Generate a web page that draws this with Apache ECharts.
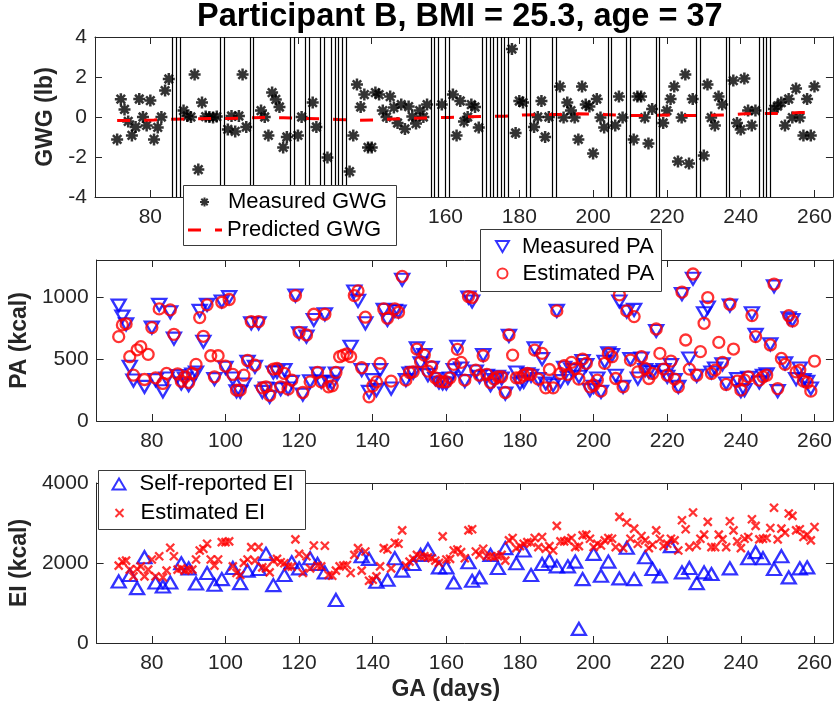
<!DOCTYPE html>
<html><head><meta charset="utf-8">
<script src="https://cdn.jsdelivr.net/npm/echarts@6/dist/echarts.min.js"></script>
<style>html,body{margin:0;padding:0;background:#fff}#c{width:835px;height:714px}</style>
</head><body><div id="c"></div>
<script>
// ---------------- data ----------------
const titleText = 'Participant B, BMI = 25.3, age = 37';
const xTicks = [80,100,120,140,160,180,200,220,240,260];
const gwgTicks = [-4,-2,0,2,4];
const paTicks = [0,500,1000];
const eiTicks = [0,2000,4000];

const gwgDays = [71,72,73,74,75,76,77,78,79,80,81,82,83,84,85,
 89,90,91,92,93,94,95,96,97,98,
 101,102,103,104,105,106,
 110,111,112,113,114,115,116,117,
 120,121,124,125,128,
 134,135,136,137,138,139,140,141,142,143,144,145,146,147,148,149,150,151,152,153,154,155,
 159,162,163,164,165,166,167,168,169,
 178,179,180,181,
 184,185,186,187,188,
 191,192,193,194,195,196,197,198,199,200,201,202,203,
 206,207,208,
 211,212,213,214,215,216,
 219,220,221,222,223,224,225,226,227,
 230,231,232,233,234,235,
 238,239,240,241,242,243,244,
 249,250,251,252,253,254,255,256,257,258,259,260];
const gwgMeasured = [-1.12,0.89,0.38,-0.22,-0.92,-0.5,0.9,0,-0.42,0.82,-1.12,-0.52,0,1.32,1.9,
 0.32,0.05,0,2.12,-2.63,0.72,0.02,0,-0.02,0.02,
 -0.62,0.05,-0.72,0.05,2.12,-0.5,
 0.32,0,-0.92,1.22,0.88,0.5,-1.52,-1.0,
 -0.92,0,0.72,-0.5,-2.02,
 -2.73,-0.93,1.62,0.5,1.12,-1.52,-1.52,1.22,1.12,0.32,0,1.02,0.47,-0.3,0.62,-0.6,0.52,0.02,-0.33,0.32,0,0.62,
 0.62,1.12,-0.93,0.8,-0.23,0,0.62,0.5,-0.53,
 3.4,-0.8,0.8,0.72,
 -0.5,0,0.8,-1.0,0,
 1.52,-0.03,0.72,0.32,-0.03,-1.12,1.52,0.62,0.52,-1.82,0.9,-0.03,-0.52,
 -0.42,1.02,-0.03,
 -1.12,1.02,1.02,-0.03,-1.32,0.4,
 -0.3,0.32,0.9,1.52,-2.22,-0.03,2.12,-2.33,0.9,
 -1.93,1.62,-0.03,-0.42,1.02,0.62,
 1.82,-0.3,-0.63,1.92,0.32,-0.42,0.32,
 0.4,0.55,0.72,-0.42,0.9,-0.03,1.42,-0.03,-0.93,0.9,-0.93,1.52];

const predDays = [71,76,81,86,91,96,101,106,111,116,121,126,131,136,141,146,151,156,161,166,171,176,181,186,191,196,201,206,211,216,221,226,231,236,241,246,251,256,260];
const gwgPredicted = [-0.18,-0.17,-0.15,-0.11,-0.1,-0.08,-0.08,-0.05,-0.02,-0.04,-0.07,-0.09,-0.13,-0.16,-0.15,-0.1,-0.06,-0.04,-0.02,0.01,0.03,0.04,0.1,0.12,0.12,0.16,0.14,0.1,0.07,0.09,0.1,0.07,0.08,0.1,0.16,0.17,0.18,0.22,0.24];

// days without a weight measurement (vertical lines)
const missingDays = [86,87,88,99,100,107,108,118,119,122,123,126,127,129,130,131,132,133,156,157,158,160,161,170,171,172,173,174,175,176,177,182,183,189,190,204,205,209,210,217,218,228,229,236,237,245,246,247,248];

// daily series start at day 71
const dailyStartDay = 71;
const paMeasured = [932,843,781,438,327,null,null,276,null,754,
 330,938,240,343,878,665,362,303,343,289,
 375,392,889,640,938,null,338,null,965,430,
 1000,343,240,235,295,478,789,438,789,235,
 262,195,392,397,257,411,262,316,1013,708,
 213,681,321,816,384,316,862,316,303,384,
 null,null,null,600,1046,970,411,789,235,330,
 249,411,897,816,262,889,884,1141,330,384,
 390,586,465,532,370,430,338,311,303,303,
 343,411,600,424,322,997,965,400,357,532,
 365,289,330,357,343,222,687,null,392,303,
 316,376,365,586,338,500,303,null,289,889,
 322,430,349,411,411,357,484,451,249,276,
 343,235,478,546,532,365,965,276,884,500,
 897,343,505,411,397,392,727,null,411,357,
 451,330,276,1024,null,505,1149,365,null,870,
 916,392,424,null,457,303,932,null,338,241,
 249,349,870,695,311,365,376,619,1087,241,
 null,465,830,816,338,424,330,316,262,null];
const paEstimated = [681,776,784,519,370,575,600,335,538,754,
 348,905,303,384,897,700,381,321,357,311,
 384,457,835,684,938,527,357,527,959,443,
 981,376,249,249,370,489,803,451,803,268,
 276,208,419,424,276,384,257,330,1013,716,
 230,695,316,862,392,316,862,276,284,392,
 519,532,541,519,1013,1051,430,838,195,284,
 316,465,905,830,322,905,878,1168,330,392,
 397,581,478,532,403,438,349,322,316,316,
 349,457,578,473,330,1005,997,411,370,527,
 376,311,338,357,357,230,695,532,349,349,
 370,384,376,573,338,546,268,416,268,889,
 384,446,376,473,424,338,500,465,276,289,
 330,241,465,546,519,343,1019,276,889,492,
 843,397,519,424,343,384,743,546,419,370,
 484,338,276,1041,654,419,1187,370,560,789,
 997,384,411,635,473,295,943,581,322,249,
 330,357,851,681,330,357,370,614,1106,262,
 505,457,851,808,397,411,322,311,241,484];

const eiSelfDays = [71,74,76,78,81,83,85,88,90,92,95,97,99,102,104,106,109,111,113,116,118,120,123,125,127,130,137,139,141,144,146,148,151,153,155,158,160,162,166,167,169,172,174,176,179,181,183,186,188,190,193,195,196,197,200,202,204,207,209,211,214,216,218,221,224,226,228,230,232,237,242,244,246,249,251,253,256,258];
const eiSelfReported = [1539,1699,1371,2145,1514,1413,1514,1993,1867,1489,1749,1455,1598,1875,1497,1808,1850,2229,1447,1699,2018,1867,2119,1976,1766,1076,2170,2102,1531,1581,2119,1808,1976,2203,2338,1892,1892,1514,2018,1556,1640,2203,1875,2372,1993,2313,1699,1976,2060,1917,1917,2035,353,1598,2229,1682,2035,1615,2380,1598,2145,1850,1665,2422,1766,1875,1497,1766,1724,1867,2119,2271,2119,1850,2170,1640,1867,1892];
const eiEstimated = [1934,2035,2060,1833,1665,1850,1917,1665,1833,2086,
 1665,2170,1640,1808,2380,2170,1833,1867,1808,1833,
 1833,2086,2313,2355,2481,2086,1934,2086,2523,2523,
 2540,1917,1749,1699,2002,2086,2398,2060,2398,1892,
 1867,1766,2060,2102,2018,1993,1909,1909,2590,2228,
 1749,2170,1867,2439,1934,1917,2431,1699,1682,1808,
 1917,1934,1951,1749,2203,2372,1808,2288,1556,1581,
 1665,1917,2372,2338,1867,2506,2481,2817,1934,2035,
 2102,2203,2170,2170,2145,2119,2060,2002,2666,2086,
 2102,2313,2338,2271,2119,2817,2843,2288,2203,2355,
 2170,2170,2145,2170,2203,2060,2565,2624,2372,2422,
 2481,2523,2506,2624,2397,2649,2355,2422,2313,2927,
 2540,2540,2565,2624,2397,2422,2691,2708,2607,2397,
 2481,2439,2565,2624,2607,2397,3154,2372,3011,2607,
 2859,2481,2674,2565,2372,2456,2817,2607,2422,2481,
 2607,2565,2313,3070,2843,2397,3263,2439,2607,2708,
 3028,2397,2397,2708,2590,2397,3044,2817,2540,2372,
 2607,2649,3095,2927,2590,2607,2624,2876,3381,2590,
 2859,2759,3238,3179,2817,2843,2649,2708,2565,2901];

// ---------------- chart ----------------
const FONT = '"Liberation Sans", Arial, Helvetica, sans-serif';
const AX = '#262626';
const pairs = (xs, ys) => xs.map((x, i) => [x, ys[i]]);
const daily = ys => ys.map((y, i) => [dailyStartDay + i, y]);

const grids = [
  {left: 95, right: 1, top: 37, height: 160},
  {left: 95, right: 1, top: 260, height: 161},
  {left: 95, right: 1, top: 483, height: 160}
];

function xAx(gi, pos, labels, name) {
  return {
    type: 'value', gridIndex: gi, position: pos, min: 65, max: 265,
    axisLine: {show: true, onZero: false, lineStyle: {color: AX, width: 1}},
    axisTick: {show: true, inside: true, length: 7, customValues: xTicks, lineStyle: {color: AX, width: 1}},
    axisLabel: {show: labels, customValues: xTicks, fontSize: 21, color: AX, fontFamily: FONT, margin: 10,
                formatter: v => String(v)},
    splitLine: {show: false},
    name: name || '', nameLocation: 'middle', nameGap: 35,
    nameTextStyle: {fontSize: 23, fontWeight: 'bold', color: AX, fontFamily: FONT, padding: [0, 38, 0, 0]}
  };
}
function yAx(gi, pos, min, max, ticks, labels, name) {
  return {
    type: 'value', gridIndex: gi, position: pos, min: min, max: max,
    axisLine: {show: true, onZero: false, lineStyle: {color: AX, width: 1}},
    axisTick: {show: true, inside: true, length: 7, customValues: ticks, lineStyle: {color: AX, width: 1}},
    axisLabel: {show: labels, customValues: ticks, fontSize: 21, color: AX, fontFamily: FONT, margin: 8,
                formatter: v => String(v)},
    splitLine: {show: false},
    name: name || '', nameLocation: 'middle', nameGap: 38, nameRotate: 90,
    nameTextStyle: {fontSize: 23, fontWeight: 'bold', color: AX, fontFamily: FONT}
  };
}

const STAR = 'path://M0,-10L0,10M-10,0L10,0M-7.07,-7.07L7.07,7.07M-7.07,7.07L7.07,-7.07';
const CROSS = 'path://M-10,-10L10,10M-10,10L10,-10';
const DOWN_TRI = 'path://M0,0L2,0L1,1.7Z';
const DASH_ICON = 'path://M0,0L13,0L13,3L0,3ZM27,0L34,0L34,3L27,3Z';

// one legend per row so each row gets its own icon size; boxes drawn behind them
function legendRow(item, left, top, iw, ih, textPad) {
  return {
    data: [item], orient: 'vertical', left: left, top: top,
    itemWidth: iw, itemHeight: ih, itemGap: 0, padding: 0,
    backgroundColor: 'transparent', borderWidth: 0,
    selectedMode: false, z: 12,
    textStyle: {fontSize: 22, color: '#000', fontFamily: FONT, lineHeight: 24, padding: [0, 0, 0, textPad]}
  };
}
function box(x, y, w, h) {
  return {type: 'rect', z: 11, silent: true,
    shape: {x: x, y: y, width: w, height: h},
    style: {fill: '#ffffff', stroke: '#3a3a3a', lineWidth: 1}};
}

const option = {
  animation: false,
  backgroundColor: '#ffffff',
  title: {
    text: titleText, left: 197, top: 1, padding: 0,
    textStyle: {fontSize: 32.5, fontWeight: 'bold', color: '#000', fontFamily: FONT}
  },
  grid: grids,
  xAxis: [xAx(0,'bottom',true), xAx(0,'top',false), xAx(1,'bottom',true), xAx(1,'top',false), xAx(2,'bottom',true,'GA (days)'), xAx(2,'top',false)],
  yAxis: [yAx(0,'left',-4,4,gwgTicks,true,'GWG (lb)'), yAx(0,'right',-4,4,gwgTicks,false),
          yAx(1,'left',0,1300,paTicks,true,'PA (kcal)'), yAx(1,'right',0,1300,paTicks,false),
          yAx(2,'left',0,4000,eiTicks,true,'EI (kcal)'), yAx(2,'right',0,4000,eiTicks,false)],
  graphic: [
    box(183.5, 185.5, 213, 60),
    box(480.5, 229.5, 181, 62),
    box(98.5, 470.5, 207, 59)
  ],
  legend: [
    legendRow({name: 'Measured GWG'}, 199, 190, 9, 9, 14),
    legendRow({name: 'Predicted GWG', icon: DASH_ICON, itemStyle: {color: '#ff0000', borderWidth: 0}}, 188, 218, 34, 3, 0),
    legendRow({name: 'Measured PA', icon: DOWN_TRI}, 495, 234.5, 13, 11, 8),
    legendRow({name: 'Estimated PA'}, 496.5, 261.5, 10, 10, 10),
    legendRow({name: 'Self-reported EI', icon: 'triangle'}, 111.5, 472, 13, 11, 9),
    legendRow({name: 'Estimated EI'}, 114.5, 501, 8, 8, 12)
  ],
  series: [
    {
      name: 'Measured GWG', type: 'scatter', xAxisIndex: 0, yAxisIndex: 0,
      data: pairs(gwgDays, gwgMeasured), symbol: STAR, symbolSize: 12,
      itemStyle: {color: '#000', borderColor: '#000', borderWidth: 2.5},
      markLine: {
        silent: true, symbol: ['none','none'], label: {show: false},
        lineStyle: {color: '#000', width: 1.2, type: 'solid'},
        emphasis: {disabled: true},
        data: missingDays.map(d => ({xAxis: d}))
      },
      z: 3
    },
    {
      name: 'Predicted GWG', type: 'line', xAxisIndex: 0, yAxisIndex: 0,
      data: pairs(predDays, gwgPredicted), symbol: 'none', showSymbol: false,
      lineStyle: {color: '#ff0000', width: 3, type: [13, 14]},
      itemStyle: {color: '#ff0000'}, z: 4
    },
    {
      name: 'Measured PA', type: 'scatter', xAxisIndex: 2, yAxisIndex: 2,
      data: daily(paMeasured), symbol: 'triangle', symbolRotate: 180, symbolSize: [14, 12],
      itemStyle: {color: 'rgba(0,0,0,0)', borderColor: '#0000ff', borderWidth: 2.3}
    },
    {
      name: 'Estimated PA', type: 'scatter', xAxisIndex: 2, yAxisIndex: 2,
      data: daily(paEstimated), symbol: 'circle', symbolSize: 11,
      itemStyle: {color: 'rgba(0,0,0,0)', borderColor: '#ff0000', borderWidth: 2.3}
    },
    {
      name: 'Self-reported EI', type: 'scatter', xAxisIndex: 4, yAxisIndex: 4,
      data: pairs(eiSelfDays, eiSelfReported), symbol: 'triangle', symbolSize: [14, 12],
      itemStyle: {color: 'rgba(0,0,0,0)', borderColor: '#0000ff', borderWidth: 2.3}
    },
    {
      name: 'Estimated EI', type: 'scatter', xAxisIndex: 4, yAxisIndex: 4,
      data: daily(eiEstimated), symbol: CROSS, symbolSize: 8,
      itemStyle: {color: '#ff0000', borderColor: '#ff0000', borderWidth: 2.3}
    }
  ]
};

const chart = echarts.init(document.getElementById('c'), null, {renderer: 'canvas'});
chart.setOption(option);
</script></body></html>
